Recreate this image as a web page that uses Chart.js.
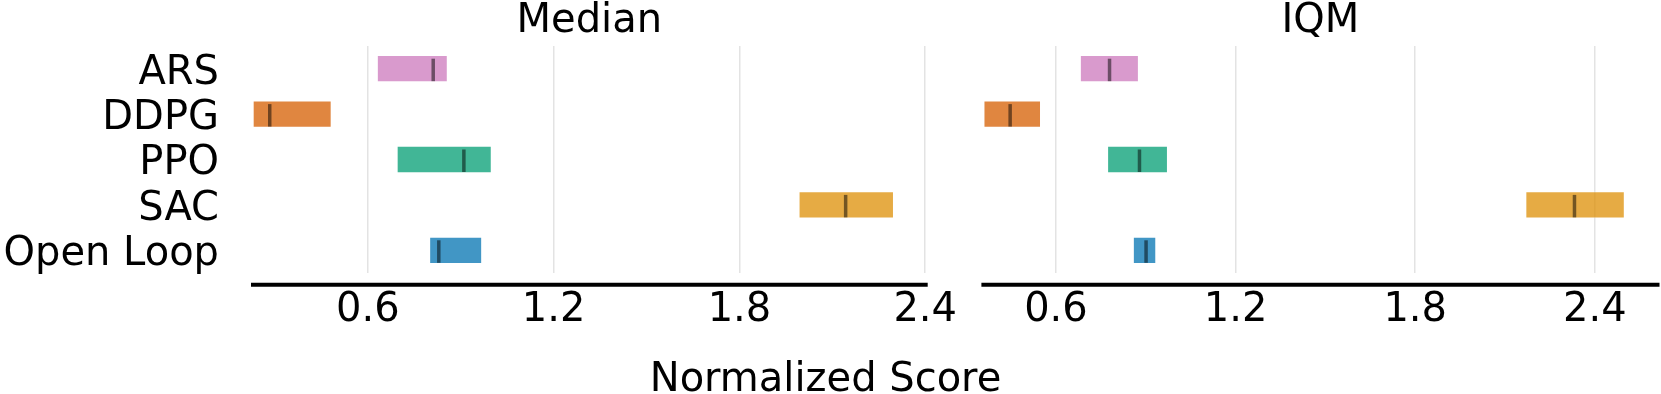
<!DOCTYPE html>
<html><head><meta charset="utf-8">
<script src="https://cdn.jsdelivr.net/npm/chart.js@4.4.1/dist/chart.umd.min.js"></script>
<style>
html,body{margin:0;padding:0;background:#fff;width:1661px;height:394px;overflow:hidden;position:relative;}
#wrapA{position:absolute;left:0;top:0;width:1000px;height:394px;}
#wrapB{position:absolute;left:940px;top:0;width:721px;height:394px;}
#xlabel{position:absolute;left:0;width:1651px;top:357px;text-align:center;font-family:'DejaVu Sans';font-size:40px;line-height:40px;color:#000;white-space:nowrap;}
</style></head><body>
<div id="wrapB"><canvas id="cB" width="721" height="394"></canvas></div>
<div id="wrapA"><canvas id="cA" width="1000" height="394"></canvas></div>
<div id="xlabel">Normalized Score</div>
<script>
const categories = ['ARS', 'DDPG', 'PPO', 'SAC', 'Open Loop'];
const medianLow   = [0.630, 0.229, 0.694, 1.992, 0.799];
const medianHigh  = [0.857, 0.482, 0.999, 2.298, 0.968];
const medianPoint = [0.811, 0.283, 0.910, 2.143, 0.829];
const iqmLow   = [0.681, 0.359, 0.772, 2.169, 0.858];
const iqmHigh  = [0.876, 0.549, 0.973, 2.499, 0.934];
const iqmPoint = [0.779, 0.447, 0.879, 2.332, 0.901];
const xTicks = [0.6, 1.2, 1.8, 2.4];
const colors = ['rgba(204,120,188,0.75)', 'rgba(213,94,0,0.75)', 'rgba(2,158,115,0.75)', 'rgba(222,143,5,0.75)', 'rgba(1,115,178,0.75)'];
const FONT = "'DejaVu Sans'";

function medianPlugin(vals) {
  return {
    id: 'medianTicks',
    afterDatasetsDraw(chart) {
      const {ctx, scales: {x, y}} = chart;
      ctx.save();
      ctx.strokeStyle = 'rgba(0,0,0,0.5)';
      ctx.lineWidth = 3.5;
      vals.forEach((v, i) => {
        const px = x.getPixelForValue(v), py = y.getPixelForValue(i);
        ctx.beginPath();
        ctx.moveTo(px, py - 10);
        ctx.lineTo(px, py + 12.5);
        ctx.stroke();
      });
      ctx.restore();
    }
  };
}
const axisLinePlugin = {
  id: 'offsetAxis',
  afterDraw(chart) {
    const {ctx, chartArea} = chart;
    const yy = chartArea.bottom + 11.7;
    ctx.save();
    ctx.strokeStyle = '#000';
    ctx.lineWidth = 4;
    ctx.beginPath();
    ctx.moveTo(chartArea.left, yy);
    ctx.lineTo(chartArea.right, yy);
    ctx.stroke();
    ctx.restore();
  }
};

function makeChart(id, title, low, high, point, xmin, xmax, showY, padL, padR) {
  const yScale = {
    type: 'category', display: showY,
    ticks: {color: '#000', font: {family: FONT, size: 40}, padding: 32, autoSkip: false, labelOffset: 4.5},
    grid: {display: false, drawTicks: false},
    border: {display: false}
  };
  if (showY) {
    yScale.afterFit = s => { s.width = 251; s.paddingTop = 0; s.paddingBottom = 0; };
  }
  return new Chart(document.getElementById(id), {
    type: 'bar',
    data: {
      labels: categories,
      datasets: [{
        data: low.map((l, i) => [l, high[i]]),
        backgroundColor: colors,
        borderColor: 'rgba(255,255,255,0.3)',
        borderWidth: 1,
        borderSkipped: false,
        barThickness: 26.6
      }]
    },
    options: {
      indexAxis: 'y', responsive: false, animation: false, devicePixelRatio: 1,
      layout: {padding: {left: padL, right: padR, top: 0, bottom: 0}},
      plugins: {
        legend: {display: false}, tooltip: {enabled: false},
        title: {display: true, text: title, fullSize: false, color: '#000',
          font: {family: FONT, size: 40, weight: 'normal', lineHeight: 1},
          padding: {top: 2, bottom: 4}}
      },
      scales: {
        x: {
          type: 'linear', min: xmin, max: xmax,
          afterBuildTicks: s => { s.ticks = xTicks.map(v => ({value: v})); },
          afterFit: s => { s.height = 121; s.paddingLeft = 0; s.paddingRight = 0; },
          ticks: {color: '#000', font: {family: FONT, size: 40}, padding: 14,
            autoSkip: false, maxRotation: 0, callback: v => Number(v).toFixed(1)},
          grid: {display: true, color: '#e3e3e3', lineWidth: 1.5, drawTicks: false},
          border: {display: false}
        },
        y: yScale
      }
    },
    plugins: [medianPlugin(point), axisLinePlugin]
  });
}

makeChart('cA', 'Median', medianLow, medianHigh, medianPoint, 0.2225, 2.408, true, 0, 72.3);
makeChart('cB', 'IQM', iqmLow, iqmHigh, iqmPoint, 0.351, 2.616, false, 41.4, 1.5);
</script>
</body></html>
